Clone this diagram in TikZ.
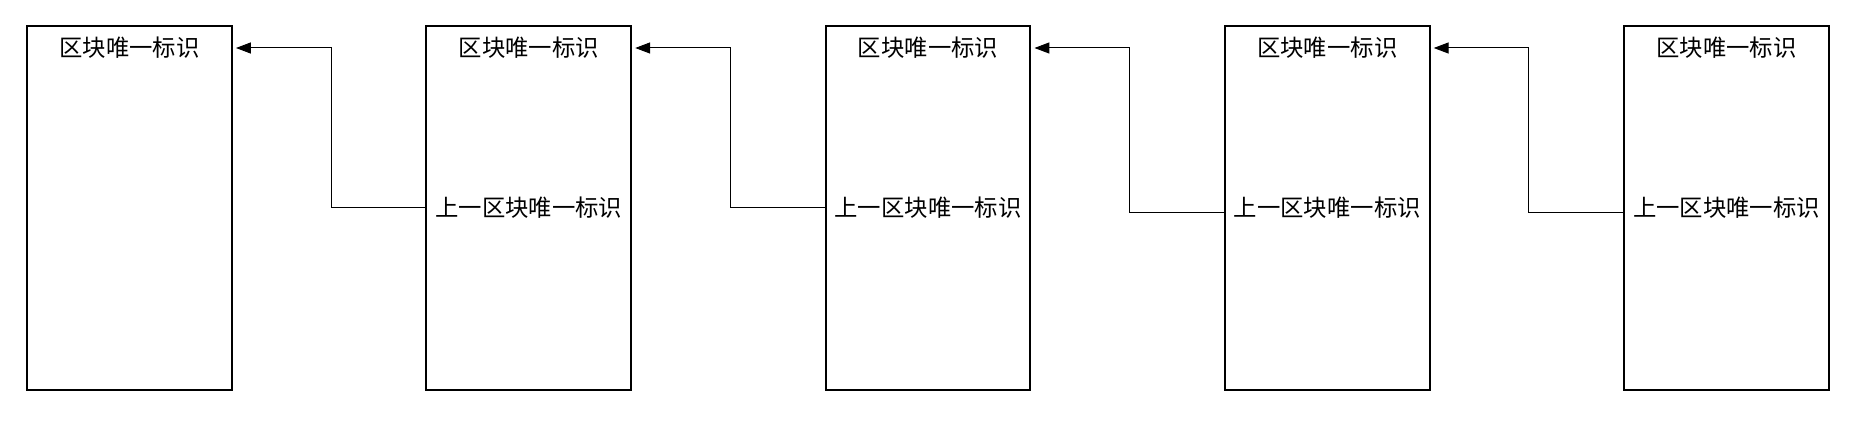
\documentclass[tikz,border=0pt]{standalone}
\usepackage{fontspec}
\newfontfamily\cjk{Noto Sans CJK SC}
\usepackage{tikz}
\usetikzlibrary{arrows.meta, positioning}

\begin{document}
\begin{tikzpicture}[x=0.02cm, y=-0.02cm,
  block/.style={draw=black, line width=1.14pt, minimum width=4.1cm, minimum height=7.29cm, inner sep=0pt, font=\cjk\fontsize{13.3}{16}\selectfont},
  blocktitle/.style={inner sep=0pt, font=\cjk\fontsize{13.3}{16}\selectfont},
  prevlink/.style={draw=black, line width=0.57pt, -{Triangle[length=8.5pt, width=6.3pt]}, shorten >=1.7pt}]
  \useasboundingbox (0,0) rectangle (1862,422);

  % blocks
  \node[block] (b1) at (129.5,207.75) {};
  \node[block] (b2) at (528.75,207.75) {上一区块唯一标识};
  \node[block] (b3) at (928,207.75) {上一区块唯一标识};
  \node[block] (b4) at (1327.25,207.75) {上一区块唯一标识};
  \node[block] (b5) at (1726.5,207.75) {上一区块唯一标识};

  % titles
  \node[blocktitle] (t1) at (129.5,48) {区块唯一标识};
  \node[blocktitle] (t2) at (528.75,48) {区块唯一标识};
  \node[blocktitle] (t3) at (928,48) {区块唯一标识};
  \node[blocktitle] (t4) at (1327.25,48) {区块唯一标识};
  \node[blocktitle] (t5) at (1726.5,48) {区块唯一标识};

  % links to the previous block
  \draw[prevlink] (b2.west) -| (331,48) -- (t1 -| b1.east);
  \draw[prevlink] (b3.west) -| (730,48) -- (t2 -| b2.east);
  \draw[prevlink] ([yshift=-2.85pt]b4.west) -| (1129,48) -- (t3 -| b3.east);
  \draw[prevlink] ([yshift=-2.85pt]b5.west) -| (1528,48) -- (t4 -| b4.east);
\end{tikzpicture}
\end{document}
